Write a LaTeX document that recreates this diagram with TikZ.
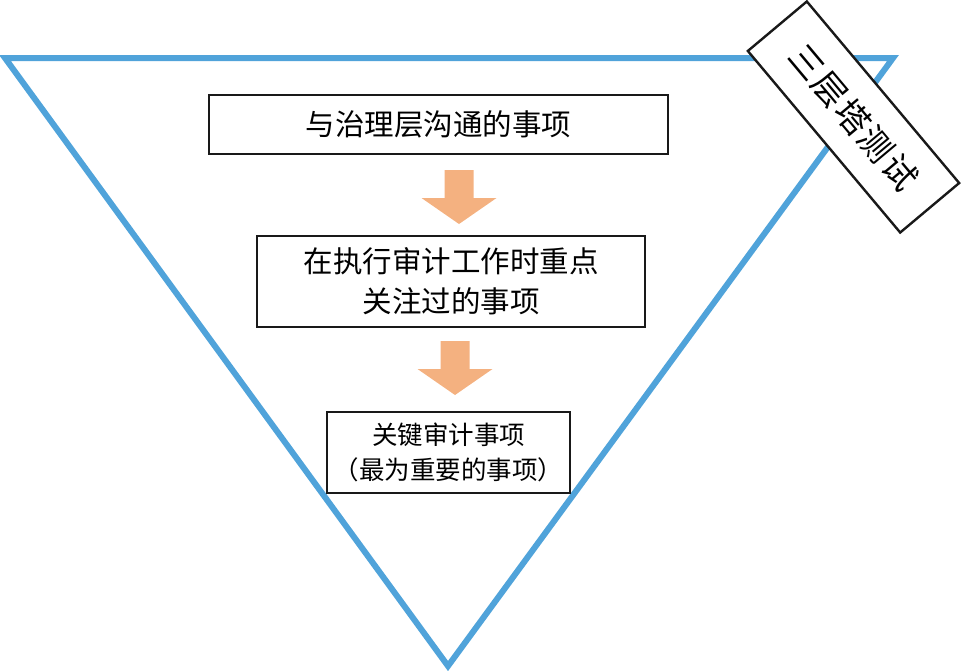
\documentclass[tikz,border=0pt]{standalone}
\usepackage{fontspec}
\setmainfont{Noto Sans CJK SC}
\usepackage{tikz}
\usetikzlibrary{positioning}
\usetikzlibrary{calc}
\definecolor{tri}{RGB}{80,163,218}
\definecolor{orng}{RGB}{244,177,128}

\tikzset{
    box/.style={draw=black!90, line width=1.2pt, fill=white, align=center, inner sep=0pt},
    arrowfill/.style={fill=orng}
}
% block arrow pointing down, top centre at #1
\newcommand{\blockarrow}[1]{
    \fill[arrowfill] (#1) ++(-14.5,0) -- ++(29,0) -- ++(0,28) -- ++(23,0) -- ++(-37.5,26) -- ++(-37.5,-26) -- ++(23,0) -- cycle;
}

\begin{document}
\begin{tikzpicture}[x=0.5pt, y=-0.5pt, line width=0.5pt]
            \useasboundingbox (0,0) rectangle (961,670);
            % Triangle
            \draw[tri, line width=3pt, line join=miter] (5,58) -- (893,58) -- (448,666) -- cycle;

            % Boxes
            \node[box, minimum width=229.5pt, minimum height=29.5pt, font=\fontsize{14.75}{18}\selectfont] (B1) at (438.5,124.5) {与治理层沟通的事项};
            \node[box, minimum width=194pt, minimum height=45.5pt, font=\fontsize{14.75}{20}\selectfont] (B2) at (451,281.5) {在执行审计工作时重点\\关注过的事项};
            \node[box, minimum width=121.5pt, minimum height=40.5pt, font=\fontsize{12.75}{17.5}\selectfont] (B3) at (448.5,452.5) {关键审计事项\\（最为重要的事项）};

            % Arrows
            \coordinate (A1) at (459,170);
            \coordinate (A2) at (455,341);
            \blockarrow{A1}
            \blockarrow{A2}

            % Label box
            \node[box, rotate=-50, minimum width=118.5pt, minimum height=38.5pt, font=\fontsize{17}{18}\selectfont] (T) at (853.5,117) {三\hspace{1pt}层\hspace{1pt}塔\hspace{1pt}测\hspace{1pt}试};
        \end{tikzpicture}
\end{document}
